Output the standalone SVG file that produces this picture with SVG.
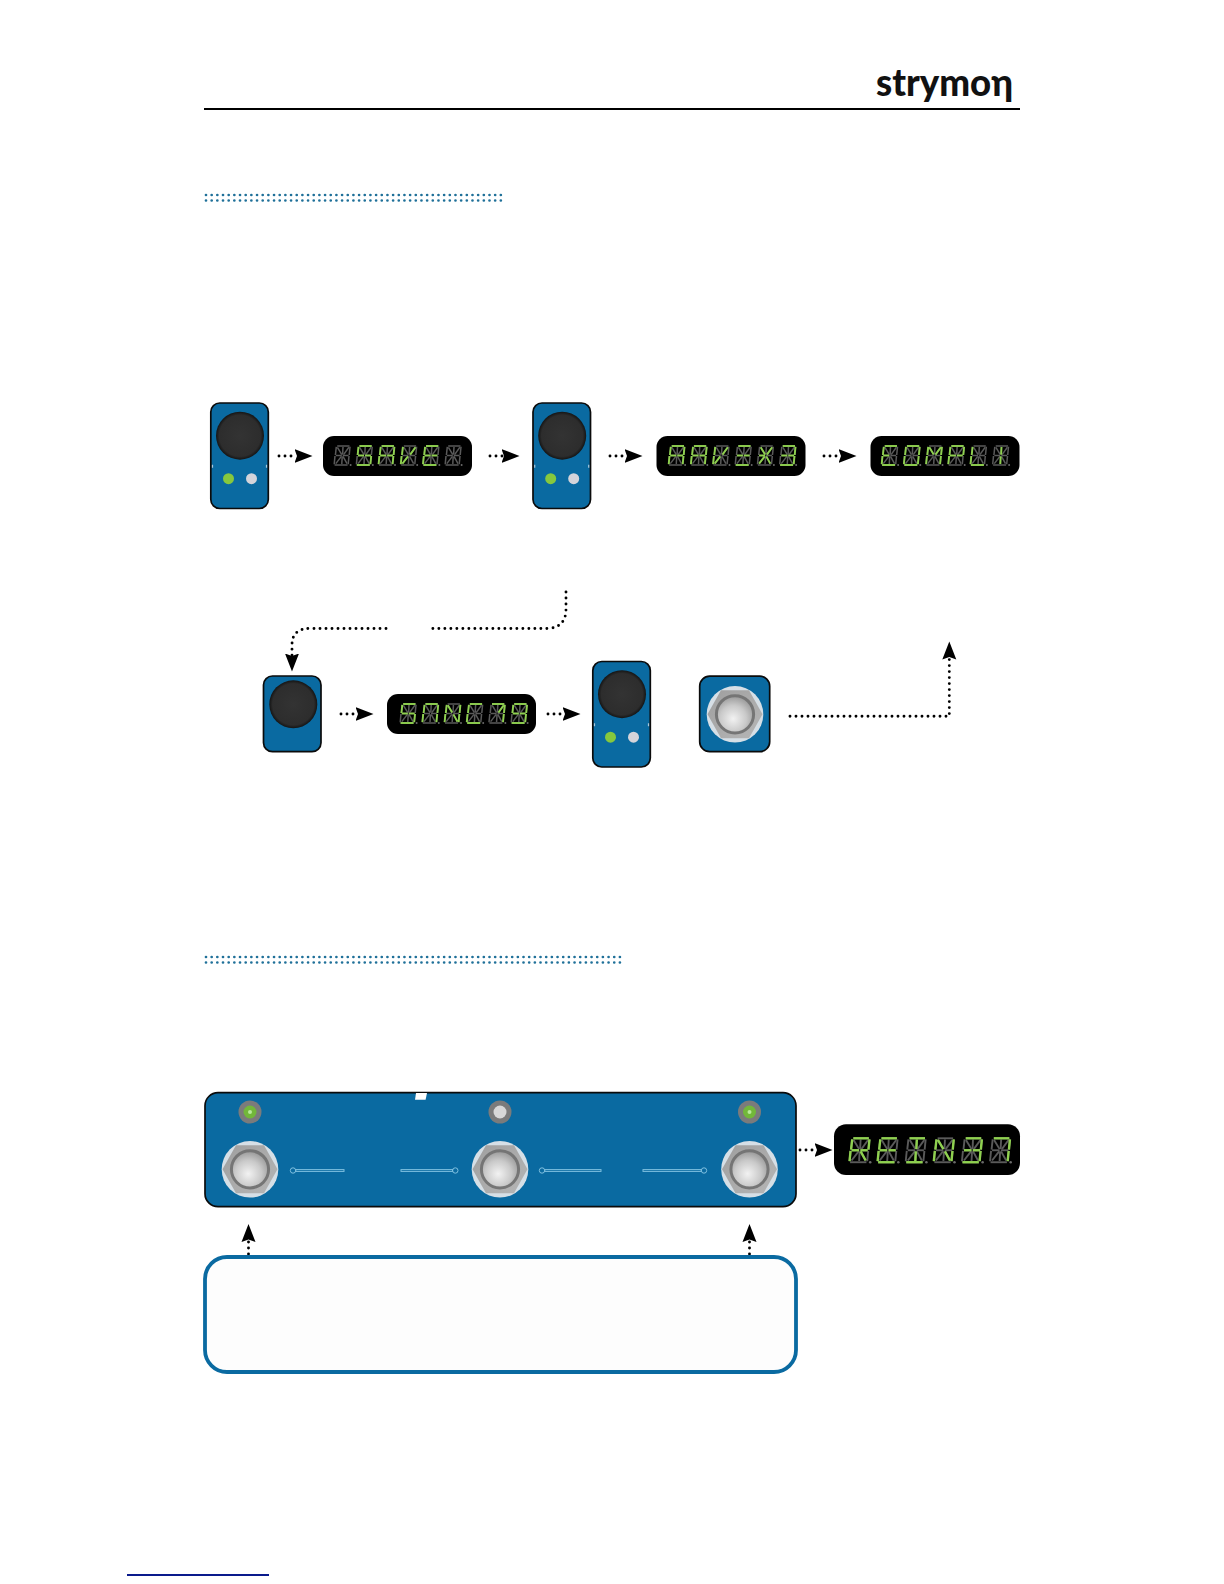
<svg xmlns="http://www.w3.org/2000/svg" width="1224" height="1584" viewBox="0 0 1224 1584">
<style>
.panel{fill:#0a6aa1;stroke:#0b0b0b;stroke-width:1.7}
.dbox{fill:#000}
.dg{fill:none;stroke:#5a5a5a;stroke-width:1.5}
.l{fill:none;stroke:#8fd14f;stroke-width:1.9}
.dot{fill:none;stroke:#000;stroke-width:2.9;stroke-linecap:round;stroke-dasharray:0 6}
.sec{fill:none;stroke:#1f7099;stroke-width:2.7;stroke-linecap:round;stroke-dasharray:0 5.67}
.sl{fill:none;stroke:#7fc0e0;stroke-width:1}
</style>
<defs>
<marker id="ah" markerUnits="userSpaceOnUse" markerWidth="20" markerHeight="16" viewBox="0 -8 20 16" refX="2.5" refY="0" orient="auto"><path d="M0-7L18 0L0 7L2.5 0Z" fill="#000"/></marker>
<radialGradient id="dome" cx=".45" cy=".62" r=".65"><stop offset="0" stop-color="#f2f2f2"/><stop offset=".55" stop-color="#c9c9c9"/><stop offset="1" stop-color="#929292"/></radialGradient>
<radialGradient id="kn" cx=".5" cy=".5" r=".5"><stop offset="0" stop-color="#333"/><stop offset=".86" stop-color="#2d2d2d"/><stop offset="1" stop-color="#141414"/></radialGradient>
<linearGradient id="hexg" x1="0" y1="0" x2="1" y2="1"><stop offset="0" stop-color="#9f9f9f"/><stop offset="1" stop-color="#b6b6b6"/></linearGradient>
<path id="a" d="M3.2 0H15.5"/><path id="b" d="M16 .8L15.2 9"/><path id="c" d="M15 10L14.2 18.2"/><path id="d" d="M.6 19H13.6"/><path id="e" d="M1 10L.2 18.2"/><path id="f" d="M2.3 .8L1.4 9"/><path id="g1" d="M1.8 9.5H7.8"/><path id="g2" d="M8.8 9.5H14.6"/><path id="h" d="M3.4 1.3L7.8 8.6"/><path id="i" d="M9 1L8.6 8.6"/><path id="j" d="M14.9 1.3L9.6 8.6"/><path id="k" d="M7.4 10.4L1.8 17.6"/><path id="n" d="M8.2 10.4L7.8 18"/><path id="m" d="M9 10.4L13 17.6"/>
<g id="dg" class="dg"><use href="#a"/><use href="#b"/><use href="#c"/><use href="#d"/><use href="#e"/><use href="#f"/><use href="#g1"/><use href="#g2"/><use href="#h"/><use href="#i"/><use href="#j"/><use href="#k"/><use href="#n"/><use href="#m"/><circle cx="16.6" cy="19" r="1" fill="#6a6a6a" stroke="none"/></g>
<rect id="dbox" class="dbox" width="149" height="40" rx="11"/>
<g id="knob"><circle r="24" fill="url(#kn)"/></g>
<g id="sw"><circle r="28.3" fill="#d6dfe6"/><path d="M-27.5 0L-14 -24H14L27.5 0L14 24H-14Z" fill="url(#hexg)"/><circle r="18.6" fill="url(#dome)" stroke="#757575" stroke-width="3"/></g>
<g id="leds"><circle cx="-11.5" cy="43" r="5.5" fill="#86c83e"/><circle cx="11.5" cy="43" r="5.5" fill="#d4d4da"/><path d="M-27.5 29v3M26.5 29v3" stroke="#a8c8dc" stroke-width="1.2"/></g>
</defs>

<g id="header">
<text x="876" y="96" font-family="Lato,'Noto Sans','DejaVu Sans',sans-serif" font-weight="900" font-size="37" textLength="137" lengthAdjust="spacingAndGlyphs" fill="#111">strymoη</text>
<path d="M204 109H1020" stroke="#000" stroke-width="2.2"/>
</g>

<g id="section-rules">
<path class="sec" d="M206 195H506M206 200.5H506"/>
<path class="sec" d="M206 957H621M206 962.5H621"/>
<path d="M127 1575H269" stroke="#0a1a8c" stroke-width="1.9"/>
</g>

<g id="connectors">
<path class="dot" d="M279 456H297" marker-end="url(#ah)"/>
<path class="dot" d="M490 456H504" marker-end="url(#ah)"/>
<path class="dot" d="M610 456H627" marker-end="url(#ah)"/>
<path class="dot" d="M824 456H841" marker-end="url(#ah)"/>
<path class="dot" d="M341 714H358" marker-end="url(#ah)"/>
<path class="dot" d="M548 714H565" marker-end="url(#ah)"/>
<path class="dot" d="M566 592V609Q566 628 547 628.5H431"/>
<path class="dot" d="M386 628.5H310Q292 628.5 292 645V656" marker-end="url(#ah)"/>
<path class="dot" d="M790 716.3H949.3V657" marker-end="url(#ah)"/>
<path class="dot" d="M800 1150H817" marker-end="url(#ah)"/>
<path class="dot" d="M248.5 1254V1239.5" marker-end="url(#ah)"/>
<path class="dot" d="M749.5 1254V1239.5" marker-end="url(#ah)"/>
</g>

<g id="panel-1"><rect class="panel" x="210.8" y="403" width="57.5" height="105.5" rx="9"/><use href="#knob" x="240" y="435.7"/><use href="#leds" x="240" y="435.7"/></g>
<g id="panel-2"><rect class="panel" x="533" y="403" width="57.5" height="105.5" rx="9"/><use href="#knob" x="562.2" y="435.7"/><use href="#leds" x="562.2" y="435.7"/></g>
<g id="panel-3"><rect class="panel" x="263.5" y="676" width="57.5" height="75.7" rx="9"/><use href="#knob" x="293.3" y="704.3"/></g>
<g id="panel-4"><rect class="panel" x="592.8" y="661.5" width="57.5" height="105.5" rx="9"/><use href="#knob" x="622" y="694.2"/><use href="#leds" x="622" y="694.2"/></g>
<g id="switch-panel"><rect class="panel" x="699.7" y="676.2" width="70" height="75.5" rx="10"/><use href="#sw" x="735" y="714.3"/></g>

<g id="display-1" transform="translate(323 436)"><use href="#dbox"/><g transform="translate(11 10)">
<use href="#dg"/>
<g transform="translate(22.2 0)"><use href="#dg"/><g class="l"><use href="#a"/><use href="#f"/><use href="#g1"/><use href="#g2"/><use href="#c"/><use href="#d"/></g></g>
<g transform="translate(44.4 0)"><use href="#dg"/><g class="l"><use href="#a"/><use href="#b"/><use href="#c"/><use href="#e"/><use href="#f"/><use href="#g1"/><use href="#g2"/></g></g>
<g transform="translate(66.6 0)"><use href="#dg"/><g class="l"><use href="#f"/><use href="#e"/><use href="#k"/><use href="#j"/></g></g>
<g transform="translate(88.8 0)"><use href="#dg"/><g class="l"><use href="#a"/><use href="#f"/><use href="#e"/><use href="#d"/><use href="#g1"/><use href="#g2"/></g></g>
<g transform="translate(111 0)"><use href="#dg"/></g>
</g></g>

<g id="display-2" transform="translate(656.5 436)"><use href="#dbox"/><g transform="translate(12 10)">
<g><use href="#dg"/><g class="l"><use href="#a"/><use href="#f"/><use href="#b"/><use href="#g1"/><use href="#g2"/><use href="#e"/><use href="#c"/></g></g>
<g transform="translate(22.2 0)"><use href="#dg"/><g class="l"><use href="#a"/><use href="#f"/><use href="#b"/><use href="#g1"/><use href="#g2"/><use href="#e"/><use href="#c"/></g></g>
<g transform="translate(44.4 0)"><use href="#dg"/><g class="l"><use href="#f"/><use href="#e"/><use href="#k"/><use href="#j"/></g></g>
<g transform="translate(66.6 0)"><use href="#dg"/><g class="l"><use href="#a"/><use href="#g1"/><use href="#g2"/><use href="#d"/></g></g>
<g transform="translate(88.8 0)"><use href="#dg"/><g class="l"><use href="#h"/><use href="#j"/><use href="#k"/><use href="#m"/><use href="#g1"/></g></g>
<g transform="translate(111 0)"><use href="#dg"/><g class="l"><use href="#a"/><use href="#b"/><use href="#g2"/><use href="#g1"/><use href="#c"/><use href="#d"/></g></g>
</g></g>

<g id="display-3" transform="translate(870.5 436)"><use href="#dbox"/><g transform="translate(11 10)">
<g><use href="#dg"/><g class="l"><use href="#a"/><use href="#f"/><use href="#e"/><use href="#d"/><use href="#g1"/></g></g>
<g transform="translate(22.2 0)"><use href="#dg"/><g class="l"><use href="#a"/><use href="#f"/><use href="#e"/><use href="#d"/><use href="#b"/><use href="#c"/></g></g>
<g transform="translate(44.4 0)"><use href="#dg"/><g class="l"><use href="#f"/><use href="#e"/><use href="#h"/><use href="#j"/><use href="#b"/><use href="#c"/></g></g>
<g transform="translate(66.6 0)"><use href="#dg"/><g class="l"><use href="#a"/><use href="#f"/><use href="#b"/><use href="#g1"/><use href="#g2"/><use href="#e"/></g></g>
<g transform="translate(88.8 0)"><use href="#dg"/><g class="l"><use href="#f"/><use href="#e"/><use href="#d"/></g></g>
<g transform="translate(111 0)"><use href="#dg"/><g class="l"><use href="#i"/><use href="#n"/></g></g>
</g></g>

<g id="display-4" transform="translate(387 694)"><use href="#dbox"/><g transform="translate(13 10)">
<g><use href="#dg"/><g class="l"><use href="#a"/><use href="#f"/><use href="#g1"/><use href="#g2"/><use href="#c"/><use href="#d"/></g></g>
<g transform="translate(22.2 0)"><use href="#dg"/><g class="l"><use href="#a"/><use href="#b"/><use href="#c"/><use href="#e"/><use href="#f"/></g></g>
<g transform="translate(44.4 0)"><use href="#dg"/><g class="l"><use href="#f"/><use href="#e"/><use href="#h"/><use href="#m"/><use href="#b"/><use href="#c"/></g></g>
<g transform="translate(66.6 0)"><use href="#dg"/><g class="l"><use href="#a"/><use href="#f"/><use href="#e"/><use href="#d"/></g></g>
<g transform="translate(88.8 0)"><use href="#dg"/><g class="l"><use href="#a"/><use href="#b"/><use href="#c"/><use href="#j"/></g></g>
<g transform="translate(111 0)"><use href="#dg"/><g class="l"><use href="#a"/><use href="#b"/><use href="#c"/><use href="#d"/><use href="#f"/><use href="#g1"/><use href="#g2"/></g></g>
</g></g>

<g id="pedal">
<rect class="panel" x="205" y="1092.7" width="591" height="114" rx="13"/>
<path d="M416 1093H427L425.6 1099.7H415Z" fill="#fff"/>
<circle cx="250" cy="1112" r="11.5" fill="#7b7b7b"/><circle cx="250" cy="1112" r="6.5" fill="#72b83a"/><circle cx="250" cy="1112" r="2" fill="#b8e898"/>
<circle cx="500" cy="1112" r="11.5" fill="#7b7b7b"/><circle cx="500" cy="1112" r="6.5" fill="#d8d8d8"/>
<circle cx="749.5" cy="1112" r="11.5" fill="#7b7b7b"/><circle cx="749.5" cy="1112" r="6.5" fill="#72b83a"/><circle cx="749.5" cy="1112" r="2" fill="#b8e898"/>
<use href="#sw" x="250" y="1169.3"/><use href="#sw" x="500" y="1169.3"/><use href="#sw" x="749.5" y="1169.3"/>
<g class="sl">
<circle cx="293" cy="1170.5" r="2.7"/><rect x="295.7" y="1169.6" width="48.3" height="1.8"/>
<circle cx="455.3" cy="1170.5" r="2.7"/><rect x="401" y="1169.6" width="51.6" height="1.8"/>
<circle cx="542" cy="1170.5" r="2.7"/><rect x="544.7" y="1169.6" width="56.3" height="1.8"/>
<circle cx="704" cy="1170.5" r="2.7"/><rect x="643" y="1169.6" width="58.3" height="1.8"/>
</g>
</g>

<g id="display-5" transform="translate(834 1124.3)"><rect class="dbox" width="186" height="50.7" rx="12"/><g transform="translate(15.3 14) scale(1.26)">
<g><use href="#dg"/><g class="l"><use href="#a"/><use href="#f"/><use href="#b"/><use href="#g1"/><use href="#g2"/><use href="#e"/><use href="#m"/></g></g>
<g transform="translate(22.3 0)"><use href="#dg"/><g class="l"><use href="#a"/><use href="#f"/><use href="#e"/><use href="#d"/><use href="#g1"/><use href="#g2"/></g></g>
<g transform="translate(44.6 0)"><use href="#dg"/><g class="l"><use href="#a"/><use href="#d"/><use href="#i"/><use href="#n"/></g></g>
<g transform="translate(66.9 0)"><use href="#dg"/><g class="l"><use href="#f"/><use href="#e"/><use href="#h"/><use href="#m"/><use href="#b"/><use href="#c"/></g></g>
<g transform="translate(89.2 0)"><use href="#dg"/><g class="l"><use href="#a"/><use href="#b"/><use href="#g2"/><use href="#g1"/><use href="#c"/><use href="#d"/></g></g>
<g transform="translate(111.5 0)"><use href="#dg"/><g class="l"><use href="#a"/><use href="#b"/><use href="#c"/></g></g>
</g></g>

<g id="note"><rect x="205" y="1257" width="591" height="115" rx="22" fill="#fdfdfd" stroke="#0a6aa1" stroke-width="3.8"/></g>
</svg>
